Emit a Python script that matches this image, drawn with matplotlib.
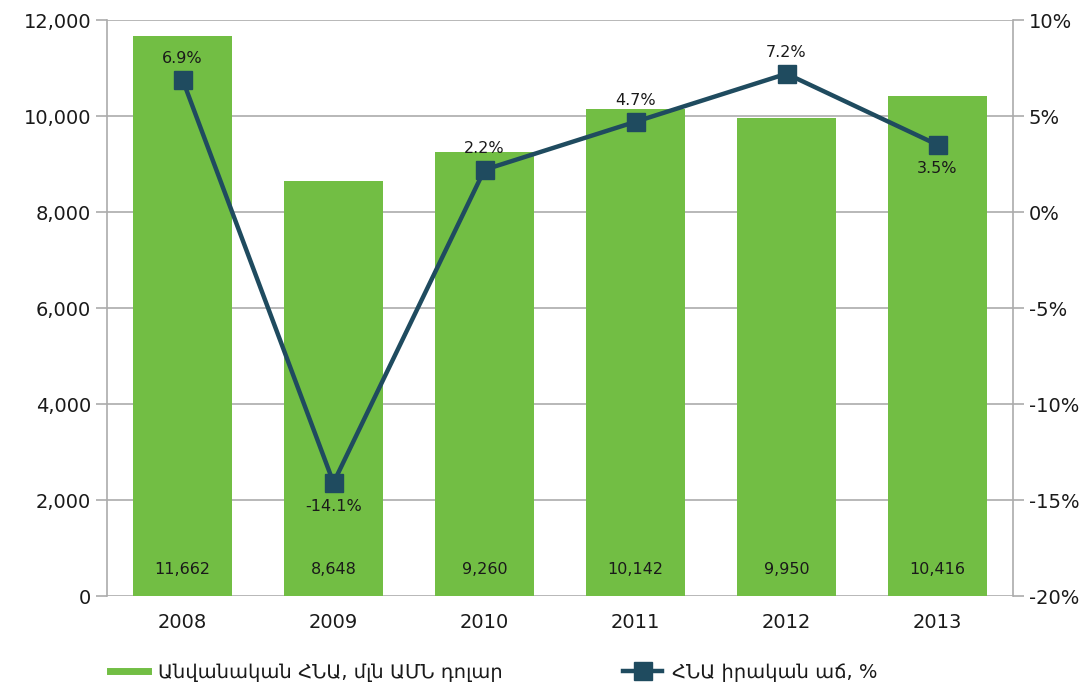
import matplotlib.pyplot as plt
from matplotlib.lines import Line2D
import numpy as np

plt.rcParams['font.family'] = ['DejaVu Sans']

years = ["2008", "2009", "2010", "2011", "2012", "2013"]
gdp = [11662, 8648, 9260, 10142, 9950, 10416]
growth = [6.9, -14.1, 2.2, 4.7, 7.2, 3.5]
# label above (True) or below (False) the marker
above = [True, False, True, True, True, False]

green = "#72BE44"
navy = "#1F4B5F"
grey = "#ABABAB"
txt = "#1a1a1a"

fig = plt.figure(figsize=(10.83, 6.85), dpi=100)
ax = fig.add_axes([107 / 1083, 1 - 596 / 685, 906 / 1083, 576 / 685])
ax2 = ax.twinx()

x = np.arange(len(years))
ax.bar(x, gdp, width=0.66, color=green, zorder=2)
for xi, v in zip(x, gdp):
    ax.text(xi, 560, f"{v:,}", ha="center", va="center", fontsize=11.5,
            color=txt, zorder=3)

ax.set_xlim(-0.5, len(years) - 0.5)
ax.set_ylim(0, 12000)
ax.set_yticks(np.arange(0, 12001, 2000))
ax.set_yticklabels([f"{v:,}" for v in range(0, 12001, 2000)])
ax.set_xticks(x)
ax.set_xticklabels(years)
ax.grid(axis="y", color=grey, linewidth=1.2, zorder=0)
ax.set_axisbelow(True)

line, = ax2.plot(x, growth, color=navy, linewidth=3.2, marker="s",
                 markersize=13, zorder=4, label="ՀՆԱ իրական աճ, %")
ax2.set_ylim(-20, 10)
ax2.set_yticks(np.arange(-20, 11, 5))
ax2.set_yticklabels([f"{v}%" for v in range(-20, 11, 5)])
for xi, g, up in zip(x, growth, above):
    if up:
        ax2.annotate(f"{g}%", (xi, g), xytext=(0, 10), textcoords="offset points",
                     ha="center", va="bottom", fontsize=11.5, color=txt)
    else:
        ax2.annotate(f"{g}%", (xi, g), xytext=(0, -12), textcoords="offset points",
                     ha="center", va="top", fontsize=11.5, color=txt)

for a in (ax, ax2):
    for s in a.spines.values():
        s.set_visible(False)
    a.tick_params(axis="y", colors=grey, labelcolor=txt, labelsize=14,
                  length=8, width=1.2)
ax.spines["left"].set_visible(True)
ax.spines["left"].set_color(grey)
ax.spines["left"].set_linewidth(1.2)
ax2.spines["right"].set_visible(True)
ax2.spines["right"].set_color(grey)
ax2.spines["right"].set_linewidth(1.2)
ax.tick_params(axis="x", length=0, labelsize=14, labelcolor=txt, pad=12)

bar_handle = Line2D([], [], color=green, linewidth=5)
handles = [bar_handle, line]
labels = ["Անվանական ՀՆԱ, մլն ԱՄՆ դոլար", "ՀՆԱ իրական աճ, %"]
fig.legend(handles, labels, loc="center left", bbox_to_anchor=(92 / 1083, 1 - 672 / 685),
           ncol=2, frameon=False, fontsize=14, columnspacing=6.2, handlelength=2.0,
           handletextpad=0.5, labelcolor=txt)

fig.savefig("out.png", dpi=100)
